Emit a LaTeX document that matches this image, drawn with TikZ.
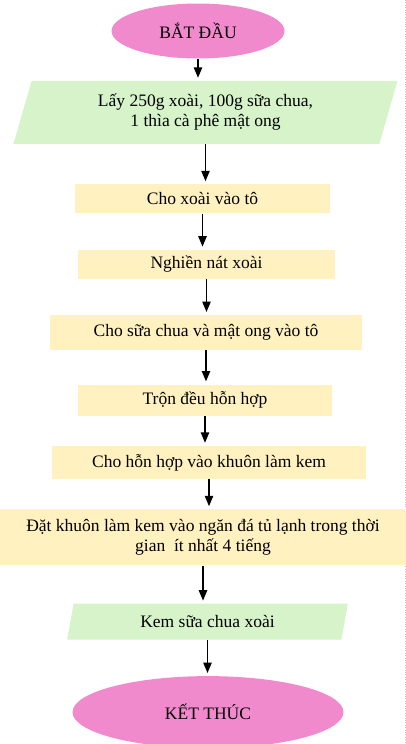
\documentclass[tikz,border=0pt]{standalone}
\usepackage{fontspec}
\setmainfont{Liberation Serif}
\usepackage{tikz}
\usetikzlibrary{positioning,shapes.geometric,arrows}
\definecolor{hongbd}{HTML}{F08ACD}
\definecolor{xanhvr}{HTML}{D6F3CA}
\definecolor{vangxl}{HTML}{FFF2C0}
\tikzset{
  bd/.style={ellipse, text centered, fill=hongbd},
  vr/.style={trapezium, trapezium stretches=true, text centered, align=center, fill=xanhvr},
  xl/.style={rectangle, text centered, align=center, fill=vangxl},
  mt/.style={line width=1.4pt, ->, >=triangle 45, shorten >=3pt},
  node distance=30pt
}

\begin{document}
\begin{tikzpicture}[x=1pt, y=1pt, font=\fontsize{17.5}{20}\selectfont]
	\useasboundingbox (0,0) rectangle (406,-744);
	\draw[black!25, dotted] (405,0) -- (405,-744);
	\node[bd, minimum width=173pt, minimum height=55pt] (batdau) at (198,-31) {BẮT ĐẦU};
	\node[vr, trapezium left angle=75, trapezium right angle=105, minimum width=385pt, minimum height=63pt, below=22pt of batdau, xshift=7.5pt] (vao) {Lấy 250g xoài, 100g sữa chua,\\1 thìa cà phê mật ong};
	\node[xl, minimum width=255pt, minimum height=29pt, below=40pt of vao, xshift=-3pt] (b1) {Cho xoài vào tô};
	\node[xl, minimum width=257pt, minimum height=29pt, below=36pt of b1, xshift=4pt] (b2) {Nghiền nát xoài};
	\node[xl, minimum width=312pt, minimum height=35pt, below=36pt of b2, xshift=-0.5pt] (b3) {Cho sữa chua và mật ong vào tô};
	\node[xl, minimum width=254pt, minimum height=31pt, below=34pt of b3, xshift=-1pt] (b4) {Trộn đều hỗn hợp};
	\node[xl, minimum width=314pt, minimum height=33pt, below=30pt of b4, xshift=4pt] (b5) {Cho hỗn hợp vào khuôn làm kem};
	\node[xl, minimum width=406pt, minimum height=56pt, below=30pt of b5, xshift=-6pt] (b6) {Đặt khuôn làm kem vào ngăn đá tủ lạnh trong thời\\gian\ \ ít nhất 4 tiếng};
	\node[vr, trapezium left angle=80, trapezium right angle=100, minimum width=281pt, minimum height=36pt, below=38pt of b6, xshift=4.5pt] (ra) {Kem sữa chua xoài};
	\node[bd, minimum width=271pt, minimum height=72pt, below=36pt of ra, xshift=0.5pt] (ketthuc) {KẾT THÚC};
	%
	\draw[mt] (batdau.south) -- (batdau.south |- vao.north);
	\foreach \a/\b in {vao/b1, b1/b2, b2/b3, b3/b4, b4/b5, b5/b6, b6/ra, ra/ketthuc}
		\draw[mt] (\a.south) -- (\a.south |- \b.north);
\end{tikzpicture}
\end{document}
